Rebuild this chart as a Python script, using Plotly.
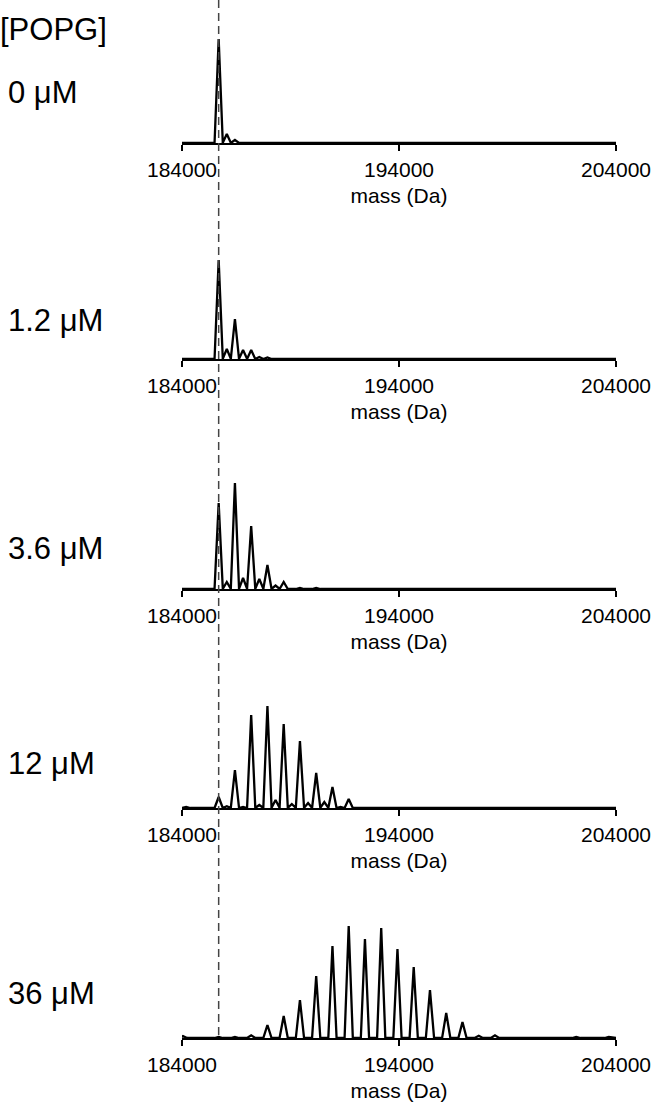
import plotly.graph_objects as go

# figure size and plot box (pixels)
W, H = 655, 1110
L, R = 182, 39

# POPG concentrations (one panel each)
conc_labels = ["0 \u03bcM", "1.2 \u03bcM", "3.6 \u03bcM", "12 \u03bcM", "36 \u03bcM"]
title_label = "[POPG]"

# axis
x_range = [184000, 204000]
tick_vals = [184000, 194000, 204000]
tick_text = ["184000", "194000", "204000"]

# apo protein mass and lipid adduct spacing (Da)
base_mass = 185690
popg_mass = 749

# number of bound lipids (half values = minor peaks between adducts)
n_0uM = [0, 0.5, 1]
i_0uM = [104, 9, 3]

n_1_2uM = [0, 0.5, 1, 1.5, 2, 2.5, 3]
i_1_2uM = [99, 10, 40, 9, 9, 2, 1.5]

n_3_6uM = [0, 0.5, 1, 1.5, 2, 2.5, 3, 3.5, 4, 5, 6]
i_3_6uM = [86, 7, 106, 11, 63, 10, 24, 3.5, 7, 1, 1]

n_12uM = [-2, 0, 0.5, 1, 1.5, 2, 2.5, 3, 3.5, 4, 4.5, 5, 5.5, 6, 6.5, 7, 7.5, 8]
i_12uM = [1, 11, 1.7, 38, 1, 93, 3, 102, 8, 84, 4, 67, 5, 35, 6, 21, 1, 9]

n_36uM = [-2.2, 0, 1, 2, 3, 4, 5, 6, 7, 8, 9, 10, 11, 12, 13, 14, 15, 16, 17, 22, 24]
i_36uM = [2, 1, 1, 2.7, 13, 22, 38, 62, 92, 112, 99, 110, 89, 71, 48, 25, 16, 2.3, 2.7, 1, 1]

panels = [(n_0uM, i_0uM), (n_1_2uM, i_1_2uM), (n_3_6uM, i_3_6uM),
          (n_12uM, i_12uM), (n_36uM, i_36uM)]

# baseline of each panel in pixels from top
baselines = [143, 359, 589, 808, 1038]
label_y = [92, 320, 548, 763, 993]
panel_h = 120
hw = 190  # peak half width in Da


def py(p):
    return (H - p) / H


def px_(p):
    return (p - L) / (W - L - R)


fig = go.Figure()

for k, (nn, ii) in enumerate(panels):
    xs = [x_range[0]]
    ys = [0]
    for n, h in sorted(zip(nn, ii)):
        m = base_mass + n * popg_mass
        xs += [m - hw, m, m + hw]
        ys += [0, h, 0]
    xs.append(x_range[1])
    ys.append(0)
    s = "" if k == 0 else str(k + 1)
    fig.add_trace(go.Scatter(x=xs, y=ys, mode="lines",
                             line=dict(color="black", width=2.3),
                             xaxis="x" + s, yaxis="y" + s,
                             showlegend=False, hoverinfo="skip"))
    b = baselines[k]
    fig.layout["xaxis" + s] = dict(
        domain=[0, 1], anchor="y" + s, range=x_range,
        tickvals=tick_vals, ticktext=tick_text,
        showline=True, linecolor="black", linewidth=2,
        ticks="outside", ticklen=6, tickwidth=2, tickcolor="black",
        showgrid=False, zeroline=False,
        tickfont=dict(size=21, color="black"), ticklabelstandoff=1,
        title=dict(text="mass (Da)", font=dict(size=21, color="black"), standoff=8),
    )
    fig.layout["yaxis" + s] = dict(
        domain=[py(b), py(b - panel_h)], anchor="x" + s,
        range=[0, panel_h], visible=False, fixedrange=True,
    )
    fig.add_annotation(text=conc_labels[k], xref="paper", yref="paper",
                       x=px_(6), y=py(label_y[k]), xanchor="left", yanchor="middle",
                       showarrow=False, font=dict(size=31, color="black"))

fig.add_annotation(text=title_label, xref="paper", yref="paper",
                   x=px_(-2), y=py(30), xanchor="left", yanchor="middle",
                   showarrow=False, font=dict(size=31, color="black"))

# dashed reference line at the apo mass through all panels
fig.add_shape(type="line", xref="x5", yref="paper",
              x0=base_mass, x1=base_mass, y0=1, y1=py(baselines[-1] - 3),
              line=dict(color="#444444", width=1.5, dash="8px,5px"))

fig.update_layout(
    width=W, height=H,
    margin=dict(l=L, r=R, t=0, b=0),
    paper_bgcolor="white", plot_bgcolor="white",
    font=dict(family="Liberation Sans, Arial, sans-serif", color="black"),
)

# page body has an 8px default margin; drop it so the figure sits at 0,0
fig.write_html("out.html", config={"displayModeBar": False},
               post_script="document.body.style.margin='0';")
